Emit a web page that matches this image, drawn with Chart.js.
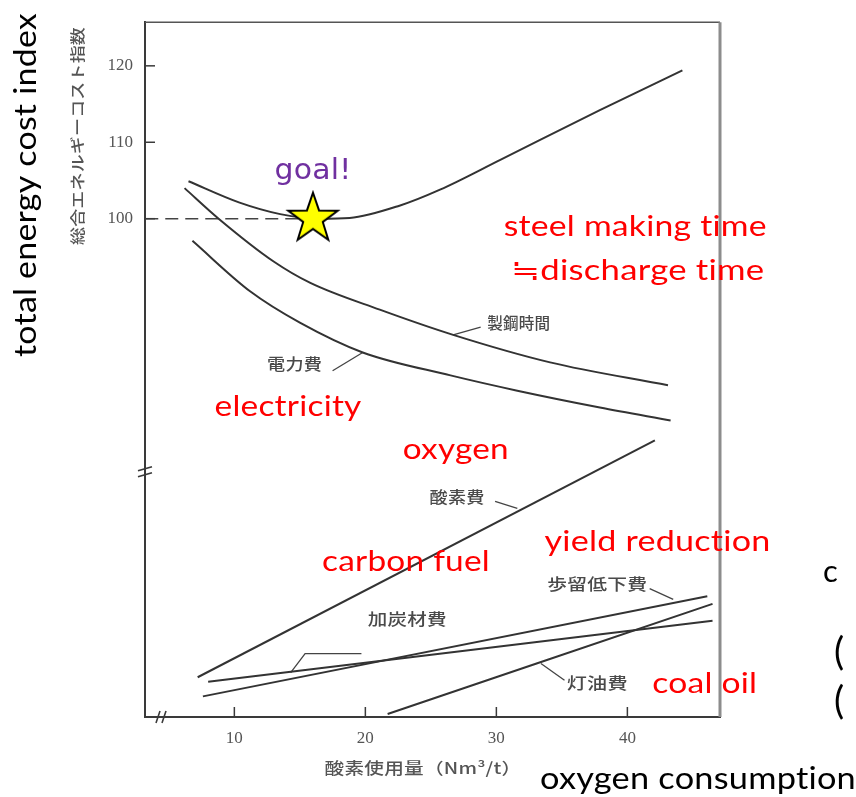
<!DOCTYPE html>
<html>
<head>
<meta charset="utf-8">
<script src="https://cdn.jsdelivr.net/npm/chart.js@4/dist/chart.umd.min.js"></script>
<style>
  html, body { margin: 0; padding: 0; background: #ffffff; }
  #wrap { width: 856px; height: 797px; }
</style>
</head>
<body>
<div id="wrap"><canvas id="c" width="856" height="797"></canvas></div>
<script>
// Oxygen consumption (Nm3/t) against energy cost components.
// Upper group: total energy cost index and the two falling curves.
const totalCostX   = [6.5, 10.4, 13.5, 16.5, 18.8, 22.6, 25.7, 30.3, 37.9, 44.2];
const totalCostY   = [104.9, 102.1, 100.6, 100.0, 100.1, 101.7, 103.8, 107.7, 114.2, 119.4];
const steelTimeX   = [6.2, 8.8, 13.0, 15.8, 21.1, 26.7, 34.1, 43.1];
const steelTimeY   = [104.0, 100.0, 94.4, 91.6, 88.1, 84.8, 81.2, 78.2];
const electricityX = [6.8, 11.2, 15.0, 19.8, 26.5, 31.6, 37.9, 43.3];
const electricityY = [97.1, 90.5, 86.4, 82.5, 79.5, 77.5, 75.3, 73.6];

// Lower group: straight cost lines (start and end).
const oxygenX      = [7.2, 42.1];
const oxygenY      = [40.0, 71.0];
const carbonFuelX  = [8.0, 46.5];
const carbonFuelY  = [39.4, 47.4];
const yieldLossX   = [7.6, 46.1];
const yieldLossY   = [37.5, 50.6];
const coalOilX     = [21.7, 46.5];
const coalOilY     = [35.2, 49.6];

// Optimum point and the reference level of the index.
const goalX = [16.0];
const goalY = [100.0];
const baseLevel = 100;
const baseLineX = [3.2, 16.0];

// Axis ticks.
const xTickValues = [10, 20, 30, 40];
const yTickValues = [100, 110, 120];

const pts = (xs, ys) => xs.map((x, i) => ({ x: x, y: ys[i] }));

// Leader lines from the Japanese labels to their curves.
const leaders = [
  [[28.8, 85.8], [26.7, 84.8]],
  [[17.5, 80.1], [19.8, 82.5]],
  [[29.9, 63.0], [31.6, 62.1]],
  [[41.7, 51.6], [43.5, 50.2]],
  [[19.7, 43.1], [15.4, 43.1], [14.3, 40.6]],
  [[35.2, 39.6], [33.4, 41.8]]
];

// In-plot labels: [text, x, y(baseline), width px]
const jpLabels = [
  ['製鋼時間', 31.7, 85.6, 63],
  ['電力費',   14.6, 80.2, 55],
  ['酸素費',   27.0, 62.8, 55],
  ['歩留低下費', 37.7, 51.4, 100],
  ['加炭材費', 23.2, 46.9, 79],
  ['灯油費',   37.7, 38.4, 61]
];
const enLabels = [
  ['steel making time', 40.6, 97.7, 263],
  ['≒discharge time',   40.8, 92.0, 253],
  ['electricity',       14.1, 74.2, 147],
  ['oxygen',            26.9, 68.6, 106],
  ['yield reduction',   42.3, 56.5, 226],
  ['carbon fuel',       23.1, 53.9, 168],
  ['coal oil',          45.9, 38.0, 105]
];

// Five-pointed star used as the marker of the optimum.
function makeStar() {
  const c = document.createElement('canvas');
  c.width = 58; c.height = 58;
  const g = c.getContext('2d');
  const cx = 29, cy = 29, R = 26, r = 10.3;
  g.beginPath();
  for (let i = 0; i < 10; i++) {
    const rad = (i % 2 === 0) ? R : r;
    const a = -Math.PI / 2 + i * Math.PI / 5;
    const px = cx + rad * Math.cos(a), py = cy + rad * Math.sin(a);
    if (i === 0) g.moveTo(px, py); else g.lineTo(px, py);
  }
  g.closePath();
  g.fillStyle = '#ffff00';
  g.fill();
  g.lineWidth = 2;
  g.strokeStyle = '#000000';
  g.lineJoin = 'miter';
  g.stroke();
  return c;
}

function fitText(ctx, text, x, y, width, font, color, align) {
  ctx.save();
  ctx.font = font;
  ctx.fillStyle = color;
  ctx.textBaseline = 'alphabetic';
  // a tiny letter spacing keeps the glyphs separate (no ligatures)
  if ('letterSpacing' in ctx) ctx.letterSpacing = '0.2px';
  const w = ctx.measureText(text).width;
  const s = width / w;
  ctx.translate(x, y);
  ctx.scale(s, 1);
  ctx.textAlign = align || 'center';
  ctx.fillText(text, 0, 0);
  ctx.restore();
}

const ink = '#333333';
const curve = (label, xs, ys) => ({
  label: label, data: pts(xs, ys), showLine: true, borderColor: ink,
  borderWidth: 2, pointRadius: 0, cubicInterpolationMode: 'monotone', fill: false
});

const datasets = [
  { label: 'goal', data: pts(goalX, goalY), pointStyle: makeStar(), pointRadius: 12, showLine: false },
  curve('総合エネルギーコスト指数', totalCostX, totalCostY),
  curve('製鋼時間', steelTimeX, steelTimeY),
  curve('電力費', electricityX, electricityY),
  curve('酸素費', oxygenX, oxygenY),
  curve('加炭材費', carbonFuelX, carbonFuelY),
  curve('歩留低下費', yieldLossX, yieldLossY),
  curve('灯油費', coalOilX, coalOilY),
  { label: 'base', data: baseLineX.map(x => ({ x: x, y: baseLevel })), showLine: true,
    borderColor: '#444444', borderWidth: 1.5, borderDash: [13, 7], pointRadius: 0 }
];
leaders.forEach((l, i) => datasets.push({
  label: 'leader' + i, data: l.map(p => ({ x: p[0], y: p[1] })), showLine: true,
  borderColor: '#444444', borderWidth: 1.3, pointRadius: 0, tension: 0
}));

const decor = {
  id: 'decor',
  afterDatasetsDraw(chart) {
    const ctx = chart.ctx;
    const a = chart.chartArea;
    const xs = chart.scales.x, ys = chart.scales.y;

    // upper and right frame lines
    ctx.save();
    ctx.strokeStyle = '#555555'; ctx.lineWidth = 1.5;
    ctx.beginPath(); ctx.moveTo(a.left, a.top); ctx.lineTo(a.right, a.top); ctx.stroke();
    ctx.strokeStyle = '#8c8c8c'; ctx.lineWidth = 3;
    ctx.beginPath(); ctx.moveTo(a.right, a.top); ctx.lineTo(a.right, a.bottom); ctx.stroke();

    // inward tick marks
    ctx.strokeStyle = '#3a3a3a'; ctx.lineWidth = 1.5;
    xTickValues.forEach(v => {
      const p = xs.getPixelForValue(v);
      ctx.beginPath(); ctx.moveTo(p, a.bottom); ctx.lineTo(p, a.bottom - 10); ctx.stroke();
    });
    yTickValues.forEach(v => {
      const p = ys.getPixelForValue(v);
      ctx.beginPath(); ctx.moveTo(a.left, p); ctx.lineTo(a.left + 10, p); ctx.stroke();
    });

    // axis break marks
    ctx.lineWidth = 1.6;
    const by = ys.getPixelForValue(66.9);
    for (const d of [-3, 3]) {
      ctx.beginPath(); ctx.moveTo(a.left - 7, by + d + 2); ctx.lineTo(a.left + 7, by + d - 2); ctx.stroke();
    }
    const bx = xs.getPixelForValue(4.4);
    for (const d of [-3, 3]) {
      ctx.beginPath(); ctx.moveTo(bx + d - 2, a.bottom + 6); ctx.lineTo(bx + d + 2, a.bottom - 6); ctx.stroke();
    }
    ctx.restore();

    // Japanese curve labels
    jpLabels.forEach(l => fitText(ctx, l[0], xs.getPixelForValue(l[1]), ys.getPixelForValue(l[2]),
      l[3], '500 16px "Noto Sans CJK JP"', '#4a4a4a', 'center'));

    // red annotations
    enLabels.forEach(l => fitText(ctx, l[0], xs.getPixelForValue(l[1]), ys.getPixelForValue(l[2]),
      l[3], '29px Lato, "Open Sans", sans-serif', '#ff0000', 'center'));

    // optimum caption
    fitText(ctx, 'goal!', xs.getPixelForValue(goalX[0]), ys.getPixelForValue(goalY[0]) - 40,
      77, '28px "DejaVu Sans"', '#7030a0', 'center');

    // axis titles
    ctx.save();
    ctx.translate(83, 136);
    ctx.rotate(-Math.PI / 2);
    fitText(ctx, '総合エネルギーコスト指数', 0, 0, 218, '500 15px "Noto Sans CJK JP"', '#555555', 'center');
    ctx.restore();

    ctx.save();
    ctx.translate(36, 185);
    ctx.rotate(-Math.PI / 2);
    fitText(ctx, 'total energy cost index', 0, 0, 344, '31px Lato, sans-serif', '#000000', 'center');
    ctx.restore();

    fitText(ctx, '酸素使用量（Nm³/t）', 423, 774, 197, '500 16px "Noto Sans CJK JP"', '#555555', 'center');
    fitText(ctx, 'oxygen consumption', 540, 789, 316, '31px Lato, sans-serif', '#000000', 'left');

    // text cut off at the right edge
    ctx.save();
    ctx.fillStyle = '#000000';
    ctx.font = '31px Lato, sans-serif';
    ctx.textAlign = 'left';
    ctx.fillText('c', 823, 582);
    ctx.font = '38px Lato, sans-serif';
    ctx.fillText('(', 834, 665);
    ctx.fillText('(', 834, 714);
    ctx.restore();
  }
};

new Chart(document.getElementById('c'), {
  type: 'scatter',
  data: { datasets: datasets },
  options: {
    responsive: false,
    animation: false,
    layout: { padding: { top: 17, right: 136, left: 0, bottom: 0 } },
    plugins: { legend: { display: false }, tooltip: { enabled: false } },
    scales: {
      x: {
        type: 'linear', min: 3.18, max: 47.07,
        afterBuildTicks: s => { s.ticks = xTickValues.map(v => ({ value: v })); },
        afterFit: s => { s.height = 80; },
        grid: { drawOnChartArea: false, drawTicks: false },
        border: { color: '#3a3a3a', width: 2 },
        ticks: { padding: 11, color: '#555555', font: { family: '"Liberation Serif"', size: 17 },
                 callback: v => String(v) }
      },
      y: {
        type: 'linear', min: 34.8, max: 125.71,
        afterBuildTicks: s => { s.ticks = yTickValues.map(v => ({ value: v })); },
        afterFit: s => { s.width = 145; },
        grid: { drawOnChartArea: false, drawTicks: false },
        border: { color: '#3a3a3a', width: 2 },
        ticks: { padding: 12, color: '#555555', font: { family: '"Liberation Serif"', size: 17 },
                 callback: v => String(v) }
      }
    }
  },
  plugins: [decor]
});
</script>
</body>
</html>
